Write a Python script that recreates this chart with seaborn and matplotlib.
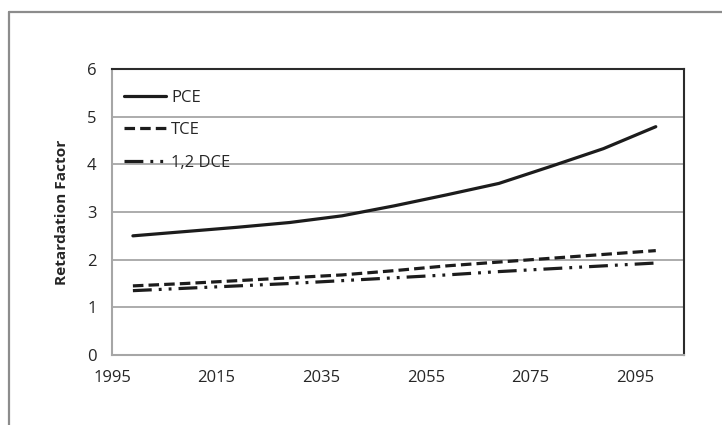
import matplotlib

matplotlib.use("Agg")
import matplotlib.pyplot as plt
import pandas as pd
import seaborn as sns
from matplotlib.lines import Line2D

# values
years = [1999, 2009, 2019, 2029, 2039, 2049, 2059, 2069, 2079, 2089, 2099]
pce = [2.50, 2.59, 2.68, 2.78, 2.92, 3.13, 3.36, 3.60, 3.96, 4.33, 4.79]
tce = [1.45, 1.50, 1.56, 1.62, 1.68, 1.77, 1.87, 1.95, 2.03, 2.11, 2.19]
dce = [1.35, 1.40, 1.45, 1.50, 1.56, 1.62, 1.68, 1.75, 1.81, 1.87, 1.93]
series_names = ["PCE", "TCE", "1,2 DCE"]
x_ticks = [1995, 2015, 2035, 2055, 2075, 2095]
y_ticks = [0, 1, 2, 3, 4, 5, 6]

df = pd.DataFrame({"year": years, "PCE": pce, "TCE": tce, "1,2 DCE": dce})
long_df = df.melt(id_vars="year", var_name="compound", value_name="rf")

sns.set_style("white")
plt.rcParams["font.family"] = ["Open Sans", "DejaVu Sans"]

TEXT = "#262626"
GRID = "#a6a6a6"
LINE = "#1c1c1c"

fig = plt.figure(figsize=(7.22, 4.25), dpi=100)
ax = fig.add_axes([0.1551, 0.1647, 0.7923, 0.6729])

dash_styles = {
    "PCE": "",
    "TCE": (3.3, 1.6),
    "1,2 DCE": (5.9, 2.2, 0.9, 2.2, 0.9, 2.2),
}
sns.lineplot(
    data=long_df,
    x="year",
    y="rf",
    hue="compound",
    style="compound",
    hue_order=series_names,
    style_order=series_names,
    palette=[LINE] * 3,
    dashes=dash_styles,
    linewidth=2.3,
    ax=ax,
    zorder=3,
)

ax.set_xlim(1995, 2104.4)
ax.set_ylim(0, 6)
ax.set_xticks(x_ticks)
ax.set_yticks(y_ticks)
ax.set_xlabel("")
ax.set_ylabel("Retardation Factor", fontsize=11.1, fontweight="bold", color=TEXT, labelpad=13)

ax.grid(axis="y", color=GRID, linewidth=1.3)
ax.set_axisbelow(True)
ax.tick_params(axis="both", direction="inout", length=7, width=1.3, color=GRID,
               labelsize=12, labelcolor=TEXT, pad=7.5)

for side in ("left", "bottom"):
    ax.spines[side].set_color(GRID)
    ax.spines[side].set_linewidth(1.5)
for side in ("top", "right"):
    ax.spines[side].set_color("#2b2b2b")
    ax.spines[side].set_linewidth(1.5)
    ax.spines[side].set_visible(True)

handles, labels = ax.get_legend_handles_labels()
leg = ax.legend(handles, labels, loc="upper left", bbox_to_anchor=(-0.012, 0.995),
                frameon=False, fontsize=12, handlelength=2.5, handletextpad=0.3,
                labelspacing=1.0, borderaxespad=0.75)
for t in leg.get_texts():
    t.set_color(TEXT)

# outer chart frame (only top and left edges are visible in the crop)
fig.add_artist(Line2D([9 / 722, 1.0], [1 - 12 / 425] * 2, color="#8c8c8c", linewidth=1.6,
                      transform=fig.transFigure))
fig.add_artist(Line2D([9 / 722] * 2, [0.0, 1 - 12 / 425], color="#8c8c8c", linewidth=1.6,
                      transform=fig.transFigure))

fig.savefig("out.png", dpi=100, facecolor="white")
